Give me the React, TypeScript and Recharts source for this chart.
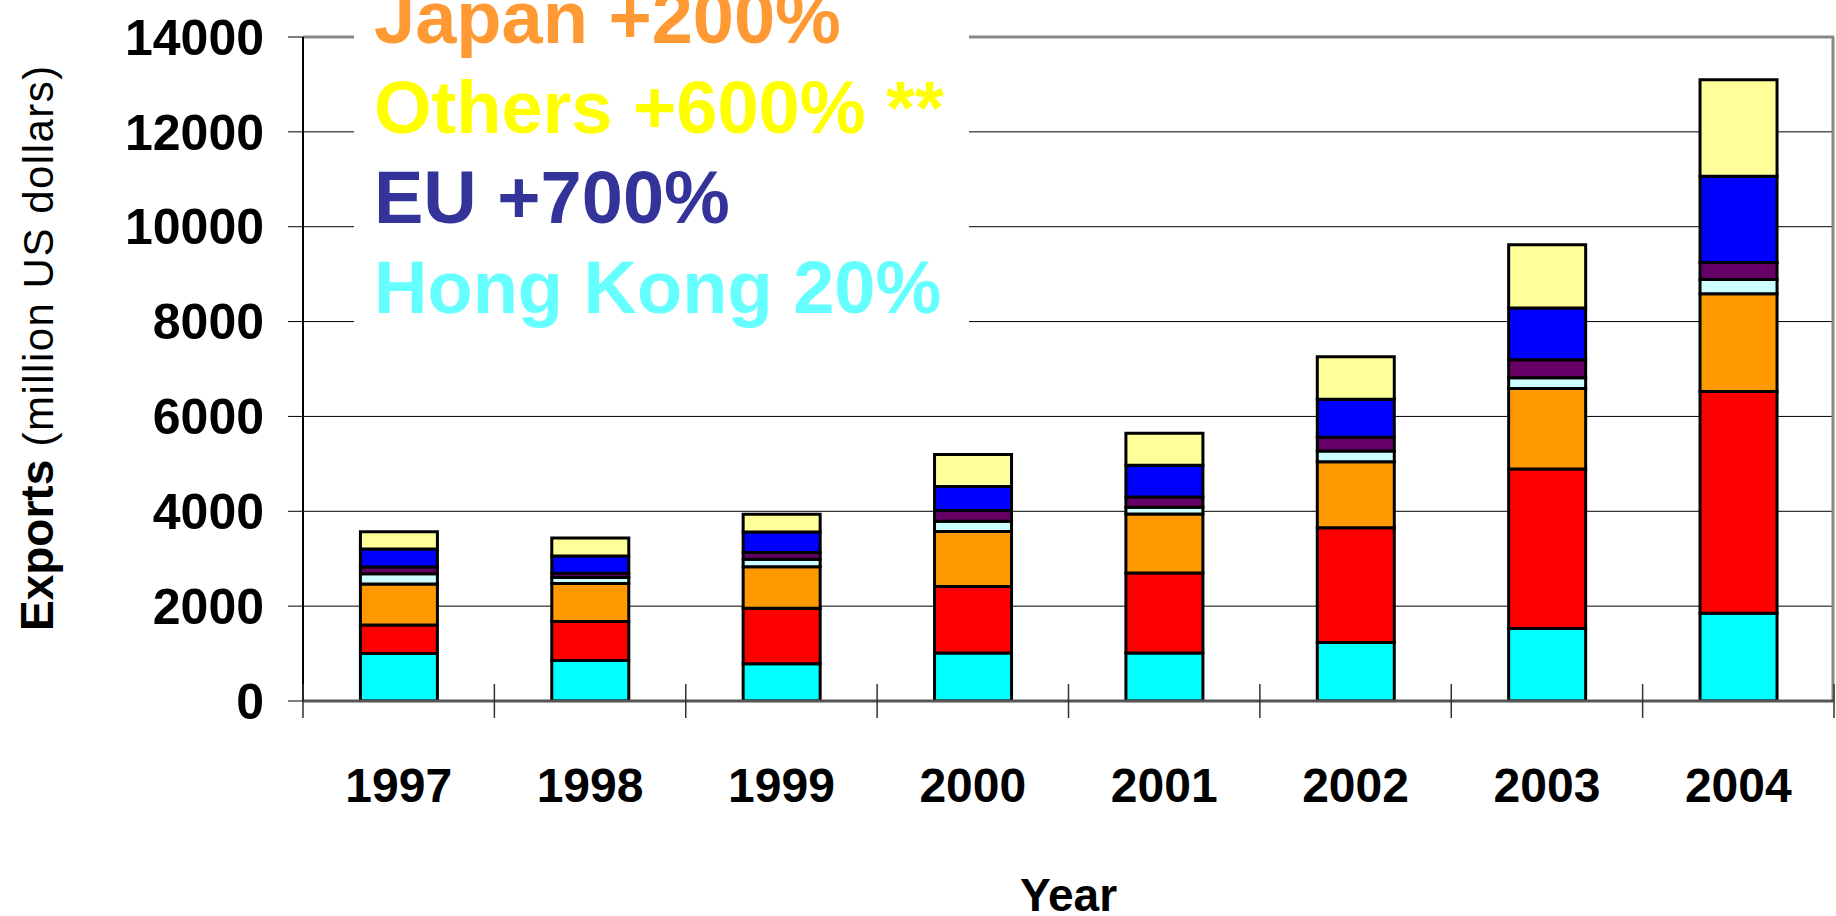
import React from 'react';
import { BarChart, Bar, XAxis, YAxis, CartesianGrid, ReferenceLine } from 'recharts';

// Exports by destination, million US dollars (stacked bottom to top)
const years = ['1997', '1998', '1999', '2000', '2001', '2002', '2003', '2004'];
const hongKong = [1000, 855, 785, 1010, 1010, 1235, 1530, 1850];
const usa = [600, 820, 1170, 1405, 1690, 2420, 3360, 4675];
const japan = [865, 800, 875, 1160, 1245, 1390, 1700, 2060];
const korea = [220, 130, 160, 215, 140, 225, 225, 300];
const taiwan = [140, 90, 140, 225, 215, 290, 380, 360];
const eu = [380, 360, 435, 505, 670, 800, 1090, 1820];
const others = [365, 380, 370, 675, 675, 900, 1335, 2035];

const yTicks = [0, 2000, 4000, 6000, 8000, 10000, 12000, 14000];

const notes = [
  { text: 'Japan +200%', color: '#FF9933' },
  { text: 'Others +600% **', color: '#FFFF00' },
  { text: 'EU +700%', color: '#333399' },
  { text: 'Hong Kong 20%', color: '#66FFFF' },
];

const series = [
  { key: 'hongKong', color: '#00FFFF' },
  { key: 'usa', color: '#FF0000' },
  { key: 'japan', color: '#FF9900' },
  { key: 'korea', color: '#CCFFFF' },
  { key: 'taiwan', color: '#660066' },
  { key: 'eu', color: '#0000FF' },
  { key: 'others', color: '#FFFF99' },
];

const data = years.map((year, i) => ({
  year,
  hongKong: hongKong[i],
  usa: usa[i],
  japan: japan[i],
  korea: korea[i],
  taiwan: taiwan[i],
  eu: eu[i],
  others: others[i],
}));

const FONT = '"Liberation Sans", Arial, Helvetica, sans-serif';
const W = 1836;
const H = 916;
const MARGIN = { top: 37, right: 2, bottom: 0, left: 0 };
const Y_AXIS_W = 303;

// Year label under each column, plus the divider ticks that cross the axis
// at the edges of every category band.
const YearTick = (props: any) => {
  const { x, y, payload, index } = props;
  const count = props.visibleTicksCount || years.length;
  const plotW = props.width || W - MARGIN.left - MARGIN.right - Y_AXIS_W;
  const band = plotW / count;
  const left = x - band / 2;
  const right = x + band / 2;
  return (
    <g>
      <line x1={left} x2={left} y1={y - 17} y2={y + 17} stroke="#333" strokeWidth={1.5} />
      {index === count - 1 && (
        <line x1={right} x2={right} y1={y - 17} y2={y + 17} stroke="#333" strokeWidth={1.5} />
      )}
      <text x={x} y={y + 101} textAnchor="middle" fontFamily={FONT} fontWeight="bold" fontSize={48} fill="#000">
        {payload.value}
      </text>
    </g>
  );
};

const YTitle = (props: any) => {
  const vb = props.viewBox || { x: 0, y: 37, width: 303, height: 664 };
  const x = vb.x + 53;
  const y = vb.y + vb.height - 70;
  return (
    <text
      x={x}
      y={y}
      transform={`rotate(-90, ${x}, ${y})`}
      textAnchor="start"
      fontFamily={FONT}
      fill="#000"
    >
      <tspan fontWeight="bold" fontSize={46}>Exports</tspan>
      <tspan fontSize={42} letterSpacing={1.5}> (million US dollars)</tspan>
    </text>
  );
};

const XTitle = (props: any) => {
  const vb = props.viewBox || { x: 303, y: 701, width: 1531, height: 215 };
  return (
    <text
      x={vb.x + vb.width / 2}
      y={vb.y + 210}
      textAnchor="middle"
      fontFamily={FONT}
      fontWeight="bold"
      fontSize={46}
      fill="#000"
    >
      Year
    </text>
  );
};

export default function App() {
  return (
    <div style={{ position: 'absolute', left: 0, top: 0, width: W, height: H, background: '#fff' }}>
      <BarChart width={W} height={H} data={data} margin={MARGIN} barCategoryGap="30%">
        <CartesianGrid vertical={false} stroke="#000" strokeWidth={1} />
        <CartesianGrid
          horizontal={false}
          vertical
          verticalCoordinatesGenerator={({ offset }: any) => [offset.left + offset.width - 1]}
          stroke="#888"
          strokeWidth={3}
        />
        <XAxis
          dataKey="year"
          height={215}
          axisLine={{ stroke: '#555', strokeWidth: 3 }}
          tickLine={false}
          tickSize={0}
          tickMargin={0}
          interval={0}
          tick={<YearTick />}
          label={{ content: <XTitle /> }}
        />
        <YAxis
          width={Y_AXIS_W}
          domain={[0, 14000]}
          ticks={yTicks}
          interval={0}
          allowDataOverflow
          axisLine={{ stroke: '#000', strokeWidth: 2 }}
          tickLine={{ stroke: '#000', strokeWidth: 1 }}
          tickSize={15}
          tickMargin={24}
          tick={{ fontFamily: FONT, fontWeight: 'bold', fontSize: 50, fill: '#000' }}
          label={{ content: <YTitle /> }}
        />
        {series.map((s) => (
          <Bar
            key={s.key}
            dataKey={s.key}
            stackId="exports"
            fill={s.color}
            stroke="#000"
            strokeWidth={3}
            isAnimationActive={false}
          />
        ))}
        <ReferenceLine y={14000} stroke="#888" strokeWidth={3} />
      </BarChart>
      <svg
        width={W}
        height={H}
        style={{ position: 'absolute', left: 0, top: 0, pointerEvents: 'none' }}
      >
        <rect x={354} y={0} width={615} height={330} fill="#fff" />
        {notes.map((n, i) => (
          <text
            key={n.text}
            x={374}
            y={43 + i * 90}
            fontFamily={FONT}
            fontWeight="bold"
            fontSize={74}
            fill={n.color}
          >
            {n.text}
          </text>
        ))}
      </svg>
    </div>
  );
}
